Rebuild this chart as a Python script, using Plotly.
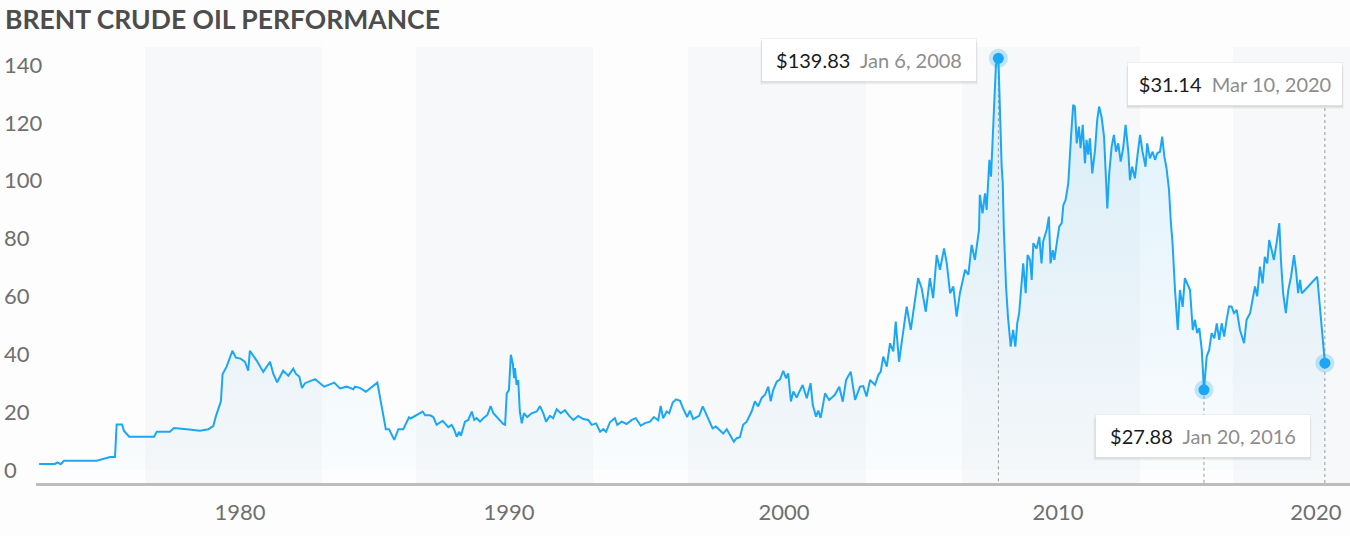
import plotly.graph_objects as go

# ---------------- data ----------------
years = [
    1973.38, 1973.96, 1974.05, 1974.17, 1974.29, 1975.49, 1975.98, 1976.16, 1976.22, 1976.42,
    1976.49, 1976.68, 1977.59, 1977.69, 1978.17, 1978.32, 1978.79, 1979.27, 1979.58, 1979.76,
    1979.86, 1979.94, 1980.04, 1980.10, 1980.25, 1980.46, 1980.59, 1980.76, 1980.92, 1981.04,
    1981.10, 1981.35, 1981.59, 1981.84, 1981.96, 1982.10, 1982.32, 1982.51, 1982.69, 1982.79,
    1982.91, 1983.01, 1983.12, 1983.49, 1983.82, 1984.19, 1984.40, 1984.65, 1984.89, 1984.95,
    1985.13, 1985.35, 1985.77, 1986.08, 1986.20, 1986.39, 1986.54, 1986.72, 1986.93, 1986.99,
    1987.43, 1987.52, 1987.70, 1987.82, 1987.94, 1988.16, 1988.37, 1988.49, 1988.58, 1988.68,
    1988.77, 1988.83, 1988.98, 1989.10, 1989.23, 1989.32, 1989.41, 1989.53, 1989.65, 1989.80,
    1989.92, 1990.02, 1990.14, 1990.26, 1990.38, 1990.45, 1990.51, 1990.59, 1990.66, 1990.73,
    1990.78, 1990.81, 1990.87, 1990.93, 1990.99, 1991.06, 1991.14, 1991.26, 1991.42, 1991.61,
    1991.73, 1991.85, 1991.95, 1992.09, 1992.21, 1992.34, 1992.49, 1992.64, 1992.80, 1992.95,
    1993.13, 1993.31, 1993.50, 1993.62, 1993.78, 1993.93, 1994.05, 1994.15, 1994.29, 1994.47,
    1994.56, 1994.72, 1994.90, 1995.09, 1995.24, 1995.42, 1995.57, 1995.76, 1995.90, 1996.06,
    1996.15, 1996.24, 1996.37, 1996.46, 1996.59, 1996.71, 1996.86, 1996.95, 1997.04, 1997.12,
    1997.22, 1997.34, 1997.47, 1997.56, 1997.69, 1997.81, 1997.93, 1998.05, 1998.17, 1998.30,
    1998.44, 1998.57, 1998.69, 1998.83, 1998.93, 1999.05, 1999.17, 1999.30, 1999.48, 1999.60,
    1999.72, 1999.85, 1999.97, 2000.09, 2000.18, 2000.27, 2000.40, 2000.52, 2000.64, 2000.74,
    2000.82, 2000.92, 2001.01, 2001.13, 2001.23, 2001.35, 2001.50, 2001.64, 2001.72, 2001.84,
    2001.92, 2002.01, 2002.17, 2002.32, 2002.53, 2002.69, 2002.82, 2002.94, 2003.11, 2003.27,
    2003.45, 2003.57, 2003.69, 2003.82, 2004.00, 2004.12, 2004.21, 2004.30, 2004.43, 2004.55,
    2004.67, 2004.76, 2004.88, 2005.01, 2005.16, 2005.31, 2005.46, 2005.58, 2005.71, 2005.86,
    2006.01, 2006.13, 2006.26, 2006.38, 2006.53, 2006.63, 2006.75, 2006.87, 2006.99, 2007.11,
    2007.30, 2007.42, 2007.54, 2007.66, 2007.81, 2007.84, 2007.94, 2008.03, 2008.09, 2008.19,
    2008.25, 2008.31, 2008.37, 2008.43, 2008.52, 2008.55, 2008.58, 2008.64, 2008.68, 2008.72,
    2008.80, 2008.87, 2008.97, 2009.06, 2009.14, 2009.21, 2009.28, 2009.43, 2009.52, 2009.59,
    2009.68, 2009.74, 2009.80, 2009.92, 2010.02, 2010.10, 2010.16, 2010.29, 2010.37, 2010.43,
    2010.51, 2010.57, 2010.65, 2010.75, 2010.84, 2010.90, 2010.98, 2011.08, 2011.18, 2011.26,
    2011.32, 2011.39, 2011.47, 2011.53, 2011.61, 2011.69, 2011.75, 2011.81, 2011.87, 2011.96,
    2012.06, 2012.14, 2012.21, 2012.30, 2012.39, 2012.46, 2012.51, 2012.58, 2012.67, 2012.75,
    2012.83, 2012.91, 2013.00, 2013.09, 2013.18, 2013.28, 2013.34, 2013.42, 2013.52, 2013.61,
    2013.71, 2013.80, 2013.91, 2013.97, 2014.07, 2014.17, 2014.26, 2014.34, 2014.44, 2014.52,
    2014.60, 2014.68, 2014.77, 2014.84, 2014.90, 2014.99, 2015.09, 2015.17, 2015.27, 2015.35,
    2015.45, 2015.54, 2015.64, 2015.72, 2015.80, 2015.88, 2015.97, 2016.01, 2016.05, 2016.15,
    2016.24, 2016.33, 2016.43, 2016.52, 2016.61, 2016.70, 2016.79, 2016.88, 2016.97, 2017.06,
    2017.15, 2017.25, 2017.37, 2017.52, 2017.61, 2017.74, 2017.83, 2017.92, 2018.00, 2018.10,
    2018.20, 2018.28, 2018.37, 2018.44, 2018.53, 2018.61, 2018.71, 2018.81, 2018.87, 2018.95,
    2019.05, 2019.14, 2019.24, 2019.35, 2019.42, 2019.50, 2019.57, 2019.63, 2019.69, 2020.20,
    2020.48,
]
prices = [
    2.1, 2.1, 2.65, 2.0, 3.2, 3.2, 4.5, 4.5, 15.7, 15.7,
    13.5, 11.5, 11.5, 13.2, 13.2, 14.5, 14.1, 13.6, 14.1, 15.2,
    18.7, 20.7, 23.7, 33.1, 35.7, 41.2, 38.8, 38.5, 37.4, 34.3,
    41.2, 37.8, 33.9, 37.4, 33.2, 30.3, 34.3, 32.6, 35.0, 33.2,
    32.3, 28.3, 30.0, 31.4, 28.8, 30.2, 28.2, 28.8, 27.9, 28.8,
    28.4, 27.0, 30.2, 14.1, 14.1, 10.4, 14.1, 14.1, 18.2, 17.8,
    20.2, 18.9, 18.9, 18.3, 15.6, 17.0, 14.8, 15.6, 14.1, 11.5,
    13.2, 11.8, 16.7, 17.3, 20.2, 17.3, 17.9, 16.7, 17.9, 19.0,
    22.1, 19.6, 18.3, 17.3, 15.9, 15.6, 26.5, 27.6, 39.8, 36.9,
    31.7, 35.2, 29.4, 31.1, 20.2, 16.1, 19.6, 18.3, 19.6, 20.2,
    22.1, 19.6, 16.7, 18.7, 17.9, 21.0, 19.6, 20.7, 18.7, 17.3,
    18.7, 17.6, 17.3, 15.6, 16.1, 13.2, 14.1, 13.2, 16.5, 17.9,
    15.6, 16.7, 15.9, 17.3, 17.9, 15.3, 16.2, 16.7, 18.3, 17.2,
    22.1, 17.9, 20.2, 19.6, 23.3, 24.4, 23.9, 21.7, 19.6, 18.3,
    20.5, 17.6, 18.3, 18.7, 22.0, 19.4, 16.7, 14.4, 15.0, 13.8,
    12.6, 14.1, 12.0, 9.8, 11.0, 11.3, 15.6, 16.7, 20.2, 23.7,
    22.0, 24.9, 26.0, 28.8, 23.7, 27.6, 30.5, 31.3, 34.3, 31.7,
    33.4, 23.7, 27.1, 25.0, 27.1, 29.4, 24.8, 30.0, 22.5, 18.4,
    20.5, 18.0, 26.5, 24.2, 26.0, 28.8, 23.6, 31.1, 34.0, 24.2,
    28.8, 29.0, 25.4, 31.1, 29.4, 32.8, 34.0, 39.2, 35.7, 43.8,
    41.0, 51.3, 37.4, 46.1, 56.5, 48.4, 58.8, 66.3, 62.8, 54.7,
    66.3, 59.4, 74.3, 69.2, 76.6, 71.4, 61.1, 63.4, 53.0, 61.1,
    69.2, 67.5, 77.8, 72.6, 83.0, 95.1, 88.7, 95.6, 89.9, 107.2,
    101.4, 116.4, 130.2, 140.0, 142.3, 133.5, 119.8, 104.8, 99.1, 83.0,
    63.4, 53.0, 42.6, 48.4, 42.6, 50.7, 54.2, 71.4, 61.1, 74.3,
    72.6, 65.7, 78.4, 76.5, 80.6, 71.4, 79.0, 83.0, 87.6, 71.4,
    76.0, 72.6, 77.8, 84.1, 85.3, 91.6, 93.3, 99.1, 115.2, 126.2,
    125.6, 112.9, 118.7, 111.2, 119.3, 106.0, 114.1, 109.0, 114.6, 102.5,
    110.6, 121.0, 125.6, 122.0, 115.2, 102.5, 90.4, 102.5, 111.8, 115.8,
    110.0, 112.9, 106.6, 111.2, 119.3, 110.0, 100.2, 104.8, 100.8, 108.3,
    115.8, 110.0, 104.8, 112.9, 107.7, 110.0, 107.2, 109.5, 110.0, 115.2,
    108.3, 104.2, 96.8, 85.3, 78.4, 62.2, 48.4, 62.2, 56.4, 66.3,
    64.0, 62.2, 48.4, 51.9, 47.3, 49.0, 41.5, 34.0, 27.7, 39.2,
    41.5, 47.3, 45.5, 50.7, 45.0, 50.7, 46.1, 51.9, 56.5, 56.5,
    54.2, 55.3, 48.4, 43.8, 51.9, 54.2, 58.8, 63.4, 60.0, 70.3,
    64.5, 73.7, 71.4, 79.5, 76.0, 72.6, 78.4, 85.3, 72.6, 61.1,
    54.2, 62.2, 66.8, 74.3, 69.2, 61.1, 65.7, 61.1, 61.6, 66.8,
    36.9,
]

tick_years = [1980.74, 1990.59, 2000.67, 2010.70, 2020.15]
tick_labels = ["1980", "1990", "2000", "2010", "2020"]
y_ticks = [0, 20, 40, 60, 80, 100, 120, 140]

band_starts = [1977.26, 1987.19, 1997.15, 2007.19, 2017.11]
band_ends = [1983.74, 1993.67, 2003.67, 2013.71, 2022.0]

callout_prices = ["$139.83", "$27.88", "$31.14"]
callout_dates = ["Jan 6, 2008", "Jan 20, 2016", "Mar 10, 2020"]

title_text = "BRENT CRUDE OIL PERFORMANCE"

# ---------------- styling ----------------
W, H = 1350, 536
M_T, M_B = 47, 53
PLOT_LEFT = 36
PH = H - M_T - M_B
X_RANGE = [1973.266, 2021.40]
Y_RANGE = [-4.5, 146.2]
FONT = "Lato, sans-serif"
LINE_COLOR = "#1ca7f5"
BG = "#fdfdfd"
BAND = "#f7f8f9"

i_peak = prices.index(max(prices))
later = [i for i, y in enumerate(years) if y > 2015]
i_low = min(later, key=lambda i: prices[i])
i_last = len(prices) - 1
hl = [i_peak, i_low, i_last]

fig = go.Figure()

fig.add_trace(go.Scatter(
    x=years, y=prices, mode="lines",
    line=dict(color=LINE_COLOR, width=2),
    fill="tozeroy",
    fillgradient=dict(type="vertical", start=0, stop=140,
                      colorscale=[[0, "rgba(28,167,245,0.015)"], [1, "rgba(28,167,245,0.14)"]]),
    hoverinfo="skip", showlegend=False,
))
fig.add_trace(go.Scatter(
    x=[years[i] for i in hl], y=[prices[i] for i in hl], mode="markers",
    marker=dict(size=19, color="rgba(28,167,245,0.25)"),
    hoverinfo="skip", showlegend=False,
))
fig.add_trace(go.Scatter(
    x=[years[i] for i in hl], y=[prices[i] for i in hl], mode="markers",
    marker=dict(size=11, color=LINE_COLOR),
    hoverinfo="skip", showlegend=False,
))

shapes = []
for s, e in zip(band_starts, band_ends):
    shapes.append(dict(type="rect", xref="x", yref="paper", x0=s, x1=e, y0=0, y1=1,
                       fillcolor=BAND, line=dict(width=0), layer="below"))
dot = dict(color="#9b9b9b", width=1, dash="3px,3px")
shapes.append(dict(type="line", xref="x", yref="y", x0=years[i_peak], x1=years[i_peak],
                   y0=prices[i_peak], y1=Y_RANGE[0], line=dot, layer="below"))
shapes.append(dict(type="line", xref="x", yref="y", x0=years[i_low], x1=years[i_low],
                   y0=prices[i_low], y1=Y_RANGE[0], line=dot, layer="below"))
shapes.append(dict(type="line", xref="x", yref="paper", x0=years[i_last], x1=years[i_last],
                   y0=0, y1=0.86, line=dot, layer="below"))

# callout boxes (paper coords; paper x spans the full width since l=r=0): x, xanchor, y(center)
box_pos = [(977 / W, "right", 0.9713), (1202.5 / W, "center", 0.1089), (1343 / W, "right", 0.9151)]
BOX_W, BOX_H = 216, 44   # pixel size of the drawn box
annotations = []
for (bx, anchor, by), p, d in zip(box_pos, callout_prices, callout_dates):
    x1p = bx if anchor == "right" else bx + BOX_W / 2 / W
    x0p = x1p - BOX_W / W
    for off, grow, alpha in ((3, 1, 0.03), (2, 0, 0.045), (1, 0, 0.05)):
        shapes.append(dict(type="rect", xref="paper", yref="paper",
                           x0=x0p - grow / W, x1=x1p + grow / W,
                           y0=by - (BOX_H / 2 + off) / PH, y1=by + (BOX_H / 2 - off - 2) / PH,
                           fillcolor=f"rgba(0,0,0,{alpha})", line=dict(width=0), layer="above"))
    txt = f"<span style='color:#1b1b1b'>{p}</span>&nbsp;&nbsp;<span style='color:#8d8d8d'>{d}</span>"
    annotations.append(dict(xref="paper", yref="paper", x=bx, y=by, xanchor=anchor, yanchor="middle",
                            text=txt, showarrow=False, width=198, height=26, align="center",
                            font=dict(family=FONT, size=20),
                            bgcolor="#ffffff", borderpad=8, borderwidth=1,
                            bordercolor="rgba(0,0,0,0.05)"))

fig.update_layout(
    width=W, height=H,
    margin=dict(l=0, r=0, t=M_T, b=M_B),
    paper_bgcolor=BG, plot_bgcolor=BG,
    font=dict(family=FONT, color="#6f6f6f"),
    title=dict(text=title_text, xref="container", yref="container",
               x=5 / W, xanchor="left", y=1 - 20 / H, yanchor="middle",
               font=dict(family=FONT, size=26.5, color="#4d4d4d", weight=700)),
    xaxis=dict(domain=[PLOT_LEFT / W, 1], range=X_RANGE, showgrid=False, zeroline=False,
               showline=True, linecolor="#bdbdbd", linewidth=3,
               tickvals=tick_years, ticktext=tick_labels, ticks="",
               ticklabelstandoff=8, tickfont=dict(size=22, color="#6f6f6f")),
    yaxis=dict(range=Y_RANGE, anchor="free", position=0, showgrid=False, zeroline=False,
               showline=False, tickvals=y_ticks, ticks="", ticklabelposition="inside",
               ticklabeloverflow="allow", tickfont=dict(size=22, color="#6f6f6f")),
    shapes=shapes, annotations=annotations,
)

fig.write_html("out.html")
